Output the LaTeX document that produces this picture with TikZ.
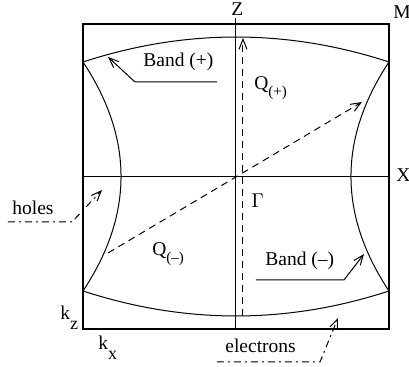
\documentclass[tikz,border=0pt]{standalone}
\usepackage{fontspec}
\setmainfont{Liberation Serif}
\usetikzlibrary{arrows.meta}
\newcommand{\lowsub}[3]{#1\raisebox{-#2}{\fontsize{7.5}{8}\selectfont #3}}
\begin{document}
\begin{tikzpicture}[x=0.5pt,y=-0.5pt,
  lbl/.style={font=\fontsize{9.75}{11}\selectfont, inner sep=0pt, anchor=base west},
  frame/.style={line width=1pt},
  fine/.style={line width=0.5pt},
  barb/.style={-{Straight Barb[length=5pt,width=4pt]}, line width=0.5pt},
  dsh/.style={dash pattern=on 3.5pt off 2.5pt},
  dshdot/.style={dash pattern=on 3.5pt off 2pt on 1pt off 2pt}]
\useasboundingbox (0,0) rectangle (409,367);
% frame
\draw[frame] (83,24) rectangle (389,329);
% corner points of the bands
\coordinate (tl) at (83,62);
\coordinate (tr) at (389,62);
\coordinate (bl) at (83,291);
\coordinate (br) at (389,291);
% labels
\node[lbl] (Z) at (231,16) {Z};
\node[lbl] (M) at (393,19) {M};
\node[lbl] (X) at (396,182) {X};
\node[lbl] (G) at (251,208) {$\Gamma$};
\node[lbl] (Qp) at (254,90) {\lowsub{Q}{3.5pt}{(+)}};
\node[lbl] (Qm) at (152,256) {\lowsub{Q}{3.5pt}{(\textendash)}};
\node[lbl] (bp) at (143,67) {Band (+)};
\node[lbl] (bm) at (265,266) {Band (\textendash)};
\node[lbl] (holes) at (12,215) {holes};
\node[lbl] (el) at (225,353) {electrons};
\node[lbl] (kz) at (60,320) {k\raisebox{-5pt}{\fontsize{9}{10}\selectfont z}};
\node[lbl] (kx) at (98,350) {k\raisebox{-5pt}{\fontsize{9}{10}\selectfont x}};
% axes
\coordinate (zb) at (236,329);
\coordinate (zt) at (236,18);
\coordinate (xl) at (83,177);
\coordinate (xr) at (389,177);
\draw[fine] (zt) -- (zb);
\draw[fine] (xl) -- (xr);
% bands
\draw[fine] (tl) .. controls (185,28.7) and (287,28.7) .. (tr);
\draw[fine] (bl) .. controls (185,324.3) and (287,324.3) .. (br);
\draw[fine] (tl) .. controls (133.7,138.3) and (133.7,214.7) .. (bl);
\draw[fine] (tr) .. controls (338.3,138.3) and (338.3,214.7) .. (br);
% Q vectors
\coordinate (qpa) at (243,316);
\coordinate (qpb) at (243,38);
\coordinate (qma) at (108,253);
\coordinate (qmb) at (362,102);
\draw[barb,dsh] (qpa) -- (qpb);
\draw[barb,dsh] (qma) -- (qmb);
% pointers
\coordinate (bp1) at (217,82);
\coordinate (bp2) at (135,82);
\coordinate (bp3) at (108,57);
\draw[barb] (bp1) -- (bp2) -- (bp3);
\coordinate (bm1) at (256,280);
\coordinate (bm2) at (344,280);
\coordinate (bm3) at (364,254);
\draw[barb] (bm1) -- (bm2) -- (bm3);
\coordinate (h1) at (8,222);
\coordinate (h2) at (72,222);
\coordinate (h3) at (102,190);
\draw[barb,dshdot] (h1) -- (h2) -- (h3);
\coordinate (e1) at (217,362);
\coordinate (e2) at (320,362);
\coordinate (e3) at (338,318);
\draw[barb,dshdot] (e1) -- (e2) -- (e3);
\end{tikzpicture}
\end{document}
